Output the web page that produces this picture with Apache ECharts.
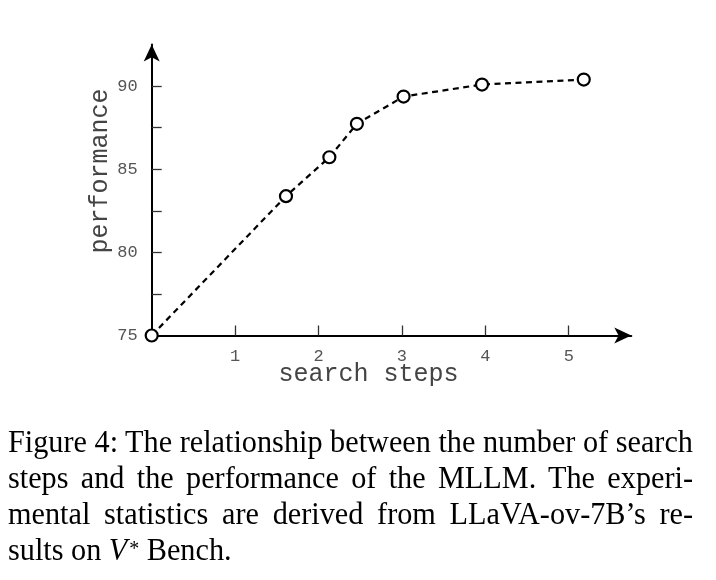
<!DOCTYPE html>
<html>
<head>
<meta charset="utf-8">
<script src="https://cdn.jsdelivr.net/npm/echarts@6/dist/echarts.min.js"></script>
<style>
  html, body { margin: 0; padding: 0; background: #fff; }
  #chart { position: absolute; left: 0; top: 0; width: 716px; height: 580px; }
  #caption { position: absolute; left: 8px; top: 423px; font-family: "Liberation Serif", "Times New Roman", serif; font-size: 32px; line-height: 36.1px; color: #000; transform-origin: 0 0; }
  #caption div { white-space: nowrap; }
  #caption .just { text-align: justify; text-align-last: justify; }
</style>
</head>
<body>
<div id="chart"></div>
<div id="caption">
  <div class="just"><span class="m">Figure 4: The relationship between the number of search</span></div>
  <div class="just"><span class="m">steps and the performance of the MLLM. The experi-</span></div>
  <div class="just"><span class="m">mental statistics are derived from LLaVA-ov-7B’s re-</span></div>
  <div><span>sults on <i>V</i><sup style="font-size:21px;position:relative;top:-5px;vertical-align:baseline;margin-left:2px">*</sup> Bench.</span></div>
</div>
<script>
// search steps vs performance (LLaVA-ov-7B on V* Bench)
const steps = [0, 1.61, 2.13, 2.46, 3.02, 3.96, 5.18];
const performance = [75, 83.38, 85.72, 87.73, 89.37, 90.09, 90.39];
const xTicks = [1, 2, 3, 4, 5];
const yTicks = [77.5, 80, 82.5, 85, 87.5, 90];
const yLabels = [75, 80, 85, 90];

const mono = '"Liberation Mono", "DejaVu Sans Mono", monospace';
const chart = echarts.init(document.getElementById('chart'));
chart.setOption({
  animation: false,
  grid: { left: 151.7, top: 44.5, right: 84.7, bottom: 244.5 },
  xAxis: {
    type: 'value', min: 0, max: 5.75,
    name: 'search steps', nameLocation: 'middle', nameGap: 26, nameMoveOverlap: false,
    nameTextStyle: { fontFamily: mono, fontSize: 25, color: '#444', padding: [0, 46, 0, 0] },
    axisLine: { lineStyle: { color: '#000', width: 2 }, symbol: ['none', 'arrow'], symbolSize: [12, 17] },
    axisTick: { inside: true, length: 10, lineStyle: { color: '#333', width: 1.3 }, customValues: xTicks },
    axisLabel: { fontFamily: mono, fontSize: 17, color: '#555', margin: 12, customValues: xTicks },
    splitLine: { show: false }
  },
  yAxis: {
    type: 'value', min: 75, max: 92.5,
    name: 'performance', nameLocation: 'middle', nameGap: 39, nameRotate: 90, nameMoveOverlap: false,
    nameTextStyle: { fontFamily: mono, fontSize: 25, color: '#444', padding: [0, 0, 0, 38] },
    axisLine: { lineStyle: { color: '#000', width: 2 }, symbol: ['none', 'arrow'], symbolSize: [12, 17] },
    axisTick: { inside: true, length: 10, lineStyle: { color: '#333', width: 1.3 }, customValues: yTicks },
    axisLabel: { fontFamily: mono, fontSize: 17, color: '#555', margin: 14, customValues: yLabels },
    splitLine: { show: false }
  },
  series: [{
    type: 'line',
    data: steps.map((s, i) => [s, performance[i]]),
    clip: false,
    symbol: 'circle', symbolSize: 12,
    lineStyle: { color: '#000', width: 2.2, type: [6, 4.5] },
    itemStyle: { color: '#fff', borderColor: '#000', borderWidth: 2.2 }
  }]
});

// caption: condense horizontally like the reference, justify the first three lines
const cap = document.getElementById('caption');
let widest = 0;
document.querySelectorAll('#caption .m').forEach(el => {
  widest = Math.max(widest, el.getBoundingClientRect().width);
});
const k = 685 / widest;
cap.style.width = (685 / k) + 'px';
cap.style.transform = 'scaleX(' + k + ')';
</script>
</body>
</html>
